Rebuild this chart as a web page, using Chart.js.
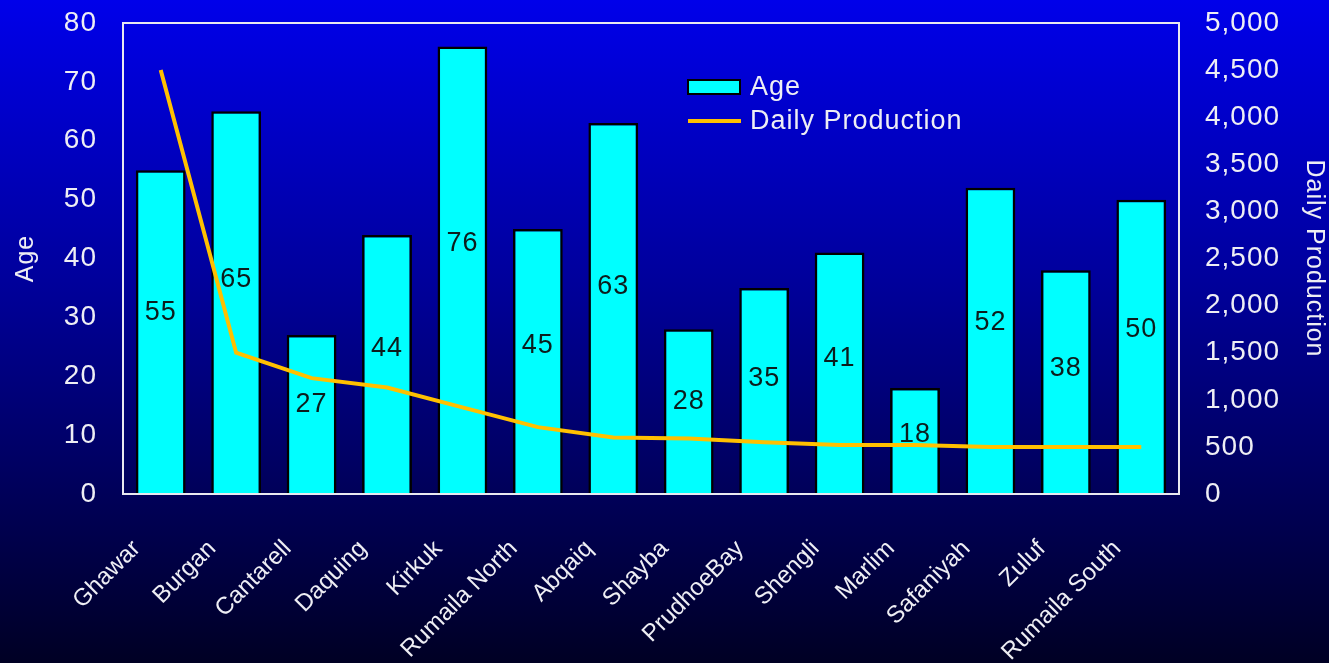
<!DOCTYPE html>
<html>
<head>
<meta charset="utf-8">
<title>Oil fields: age and daily production</title>
<script src="https://cdn.jsdelivr.net/npm/chart.js@4.4.1/dist/chart.umd.min.js"></script>
<style>
  html, body { margin: 0; padding: 0; background: #000060; }
  #wrap { width: 1329px; height: 663px; }
  canvas { display: block; }
</style>
</head>
<body>
<div id="wrap"><canvas id="c" width="1329" height="663"></canvas></div>
<script>
// Field names along the category axis
const fields = ['Ghawar', 'Burgan', 'Cantarell', 'Daquing', 'Kirkuk', 'Rumaila North', 'Abqaiq',
                'Shayba', 'PrudhoeBay', 'Shengli', 'Marlim', 'Safaniyah', 'Zuluf', 'Rumaila South'];
// Age of each field (years), left axis
const ages = [55, 65, 27, 44, 76, 45, 63, 28, 35, 41, 18, 52, 38, 50];
// Daily production, right axis
const production = [4500, 1500, 1230, 1130, 920, 710, 600, 590, 550, 520, 520, 500, 500, 500];
// Axis ranges and steps
const ageAxis = { min: 0, max: 80, step: 10 };
const prodAxis = { min: 0, max: 5000, step: 500 };

const TEXT = '#eeeef4';
const FONT = "'Liberation Sans', Arial, sans-serif";

// Blue gradient backdrop over the whole canvas; slightly spaced lettering for all text
const backdrop = {
  id: 'backdrop',
  beforeDraw(chart) {
    const { ctx, width, height } = chart;
    const g = ctx.createLinearGradient(0, 0, 0, height);
    g.addColorStop(0, 'rgb(0,0,234)');
    g.addColorStop(0.45, 'rgb(0,0,150)');
    g.addColorStop(1, 'rgb(0,0,36)');
    ctx.save();
    ctx.fillStyle = g;
    ctx.fillRect(0, 0, width, height);
    ctx.restore();
    ctx.letterSpacing = '1px';
  }
};

// Frame around the plot area, value labels inside the bars, legend and slanted field names
const decorations = {
  id: 'decorations',
  afterDatasetsDraw(chart) {
    const { ctx, chartArea: a } = chart;
    ctx.save();

    // value labels in the bars
    const barMeta = chart.getDatasetMeta(0);
    ctx.font = '27px ' + FONT;
    ctx.fillStyle = '#0c1c1c';
    ctx.textAlign = 'center';
    ctx.textBaseline = 'middle';
    barMeta.data.forEach((bar, i) => {
      const p = bar.getProps(['x', 'y', 'base'], true);
      const y = p.base - (p.base - p.y) * 0.56;
      ctx.fillText(String(chart.data.datasets[0].data[i]), p.x, y);
    });

    // plot frame
    ctx.strokeStyle = '#e8e8f0';
    ctx.lineWidth = 2;
    ctx.strokeRect(a.left, a.top, a.right - a.left, a.bottom - a.top);

    // legend
    const ds = chart.data.datasets;
    const lx = 688, ly = 87, gap = 34;
    ctx.fillStyle = ds[0].backgroundColor;
    ctx.fillRect(lx, ly - 7, 52, 14);
    ctx.strokeStyle = '#000';
    ctx.lineWidth = 2;
    ctx.strokeRect(lx, ly - 7, 52, 14);
    ctx.strokeStyle = ds[1].borderColor;
    ctx.lineWidth = 4;
    ctx.beginPath();
    ctx.moveTo(lx, ly + gap);
    ctx.lineTo(lx + 53, ly + gap);
    ctx.stroke();
    ctx.fillStyle = TEXT;
    ctx.font = '27px ' + FONT;
    ctx.textAlign = 'left';
    ctx.textBaseline = 'middle';
    ctx.fillText(ds[0].label, lx + 62, ly + 1);
    ctx.fillText(ds[1].label, lx + 62, ly + gap + 1);

    // slanted category labels
    const xs = chart.scales.x;
    ctx.letterSpacing = '0px';
    ctx.font = '24px ' + FONT;
    ctx.textAlign = 'right';
    ctx.textBaseline = 'middle';
    chart.data.labels.forEach((lab, i) => {
      const x = xs.getPixelForValue(i) - 24;
      ctx.save();
      ctx.translate(x, 545);
      ctx.rotate(-Math.PI / 4);
      ctx.fillText(lab, 0, 0);
      ctx.restore();
    });

    ctx.restore();
  }
};

// Fixed side widths; vertical axes should not push the plot area down
function sideAxis(width) {
  return s => {
    s.width = width;
    s.paddingTop = 0;
    s.paddingBottom = 0;
  };
}

new Chart(document.getElementById('c'), {
  data: {
    labels: fields,
    datasets: [
      {
        type: 'bar',
        label: 'Age',
        data: ages,
        yAxisID: 'y',
        backgroundColor: '#00ffff',
        borderColor: '#000000',
        borderWidth: 2.5,
        categoryPercentage: 1,
        barPercentage: 0.66,
        order: 2
      },
      {
        type: 'line',
        label: 'Daily Production',
        data: production,
        yAxisID: 'y1',
        borderColor: '#ffc000',
        borderWidth: 4,
        pointRadius: 0,
        tension: 0,
        fill: false,
        order: 1
      }
    ]
  },
  options: {
    responsive: false,
    devicePixelRatio: 1,
    animation: false,
    layout: { padding: { top: 23, left: 0, right: 0, bottom: 0 } },
    plugins: {
      legend: { display: false },
      tooltip: { enabled: false }
    },
    scales: {
      x: {
        type: 'category',
        offset: true,
        grid: { display: false },
        border: { display: false },
        ticks: { display: false },
        afterFit(s) { s.height = 169; }
      },
      y: {
        position: 'left',
        min: ageAxis.min,
        max: ageAxis.max,
        grid: { display: false, drawTicks: false },
        border: { display: false },
        ticks: {
          stepSize: ageAxis.step,
          color: TEXT,
          padding: 26,
          font: { family: FONT, size: 28 }
        },
        title: {
          display: true,
          text: 'Age',
          color: TEXT,
          padding: { top: 14, bottom: 0 },
          font: { family: FONT, size: 25, lineHeight: 1 }
        },
        afterFit: sideAxis(123)
      },
      y1: {
        position: 'right',
        min: prodAxis.min,
        max: prodAxis.max,
        grid: { display: false, drawTicks: false },
        border: { display: false },
        ticks: {
          stepSize: prodAxis.step,
          color: TEXT,
          padding: 26,
          font: { family: FONT, size: 28 },
          callback: v => Number(v).toLocaleString('en-US')
        },
        title: {
          display: true,
          text: 'Daily Production',
          color: TEXT,
          padding: { top: 3, bottom: 0 },
          font: { family: FONT, size: 25, lineHeight: 1 }
        },
        afterFit: sideAxis(150)
      }
    }
  },
  plugins: [backdrop, decorations]
});
</script>
</body>
</html>
